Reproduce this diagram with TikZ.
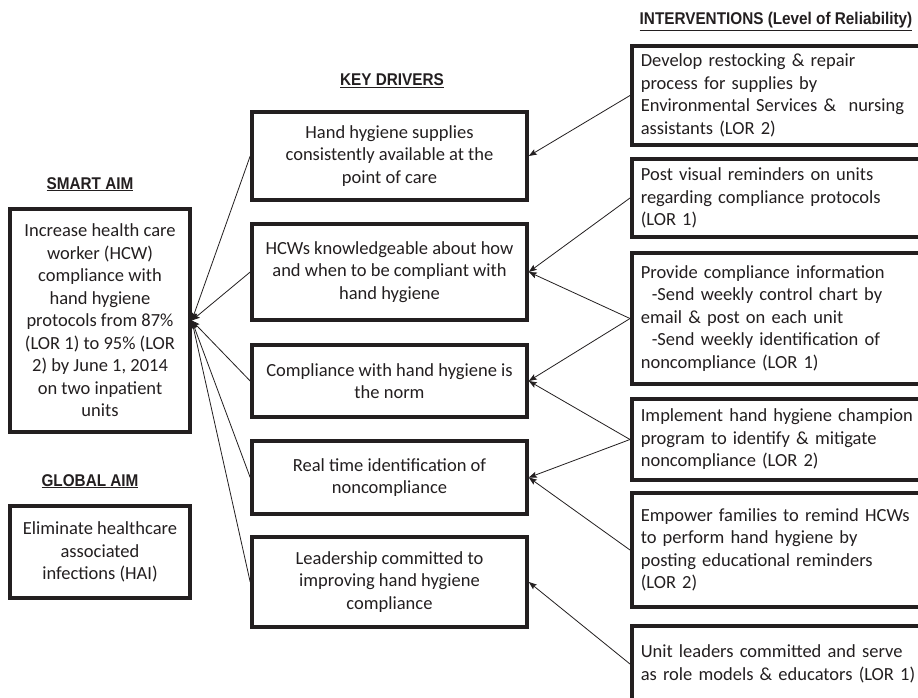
\documentclass[tikz,border=0pt]{standalone}
\usepackage{fontspec}
\setmainfont{Carlito}
\newfontfamily\headfont[FakeStretch=0.9]{Liberation Sans}
\usetikzlibrary{arrows.meta}
\definecolor{ink}{HTML}{231F20}
\begin{document}
\begin{tikzpicture}[x=1pt,y=-1pt,
  txt/.style={font=\fontsize{18.5}{22.5}\selectfont, text=ink},
  box/.style={txt, draw=ink, line width=3.6pt, rectangle, inner sep=0pt, align=center, minimum width=#1},
  box/.default=275pt,
  ibox/.style={txt, draw=ink, line width=3.6pt, rectangle, inner xsep=9pt, inner ysep=0pt, align=left, text width=285pt, anchor=west},
  head/.style={font=\headfont\bfseries\fontsize{17}{20}\selectfont, text=ink, anchor=base, inner sep=0pt},
  conn/.style={draw=ink, line width=0.8pt, -{Stealth[length=8pt,width=6pt,inset=1.5pt]}}
]
\useasboundingbox (0,0) rectangle (918,698);
\clip (0,0) rectangle (918,698);
\fill[white] (0,0) rectangle (918,698);

% headings
\node[head] (hsmart) at (90,189) {\underline{SMART AIM}};
\node[head] (hglobal) at (90,486) {\underline{GLOBAL AIM}};
\node[head] (hkey) at (392,86) {\underline{KEY DRIVERS}};
\node[head] (hint) at (776,25) {\underline{INTERVENTIONS (Level of Reliability)}};

% aims
\node[box=180pt, minimum height=223pt] (smart) at (100,320.5) {Increase health care\\worker (HCW)\\compliance with\\hand hygiene\\protocols from 87\%\\(LOR 1) to 95\% (LOR\\2) by June 1, 2014\\on two inpatient\\units};
\node[box=180pt, minimum height=92pt] (global) at (100,552) {Eliminate healthcare\\associated\\infections (HAI)};

% key drivers
\node[box, minimum height=88pt] (d1) at (389.5,156) {Hand hygiene supplies\\consistently available at the\\point of care};
\node[box, minimum height=96pt] (d2) at (389.5,272) {HCWs knowledgeable about how\\and when to be compliant with\\hand hygiene};
\node[box, minimum height=72pt] (d3) at (389.5,381) {Compliance with hand hygiene is\\the norm};
\node[box, minimum height=73pt] (d4) at (389.5,477.5) {Real time identification of\\noncompliance};
\node[box, minimum height=90pt] (d5) at (389.5,582) {Leadership committed to\\improving hand hygiene\\compliance};

% interventions
\node[ibox, minimum height=99pt] (i1) at (630,95.5) {Develop restocking \& repair\\process for supplies by\\Environmental Services \&\ \ nursing\\assistants (LOR 2)};
\node[ibox, minimum height=78pt] (i2) at (630,198) {Post visual reminders on units\\regarding compliance protocols\\(LOR 1)};
\node[ibox, minimum height=131pt] (i3) at (630,318.5) {Provide compliance information\\\hspace*{11pt}-Send weekly control chart by\\email \& post on each unit\\\hspace*{11pt}-Send weekly identification of\\noncompliance (LOR 1)};
\node[ibox, minimum height=81pt] (i4) at (630,439.5) {Implement hand hygiene champion\\program to identify \& mitigate\\noncompliance (LOR 2)};
\node[ibox, minimum height=114pt] (i5) at (630,550) {Empower families to remind HCWs\\to perform hand hygiene by\\posting educational reminders\\(LOR 2)};
\node[ibox, minimum height=76pt] (i6) at (630,664) {Unit leaders committed and serve\\as role models \& educators (LOR 1)};

% drivers -> aim
\foreach \d in {d1,d2,d3,d4,d5}
  \draw[conn] (\d.west) -- (smart.east);

% interventions -> drivers
\draw[conn] (i1.west) -- (d1.east);
\draw[conn] (i2.west) -- (d2.east);
\draw[conn] (i3.west) -- (d2.east);
\draw[conn] (i3.west) -- (d3.east);
\draw[conn] (i4.west) -- (d3.east);
\draw[conn] (i4.west) -- (d4.east);
\draw[conn] (i5.west) -- (d4.east);
\draw[conn] (i6.west) -- (d5.east);
\end{tikzpicture}
\end{document}
